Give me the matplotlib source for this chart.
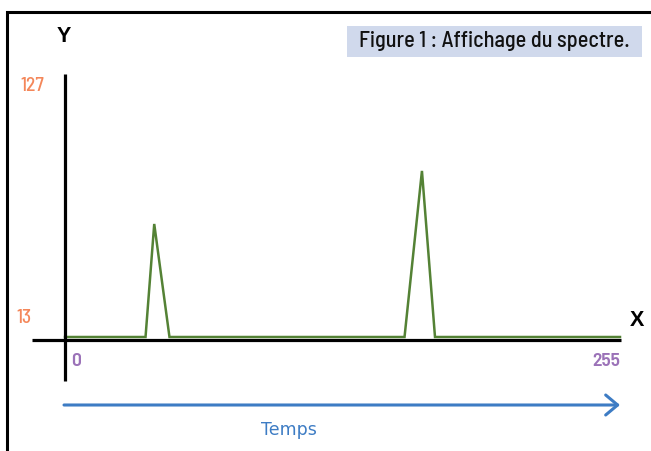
import matplotlib
matplotlib.use("Agg")
import matplotlib.pyplot as plt
from matplotlib.patches import Rectangle, FancyArrowPatch
from matplotlib.lines import Line2D

# ---- data ----
time_samples = [0, 37, 41, 48, 156, 164, 170, 255]
amplitudes = [13, 13, 62, 13, 13, 85, 13, 13]
y_ticks = [13, 127]
x_ticks = [0, 255]
title_text = "Figure 1 : Affichage du spectre."
x_label = "Temps"

W, H = 651, 451
fig = plt.figure(figsize=(W / 100, H / 100), dpi=100)
fig.patch.set_facecolor("white")

def P(x, y):
    return (x / W, 1 - y / H)

T = fig.transFigure
COND = ["Barlow Semi Condensed", "Barlow Condensed", "DejaVu Sans"]
NUM = ["Barlow Semi Condensed", "DejaVu Sans"]
SANS = ["Liberation Sans", "Arimo", "DejaVu Sans"]

# outer frame (cropped rectangle)
fig.add_artist(Line2D([7 / W, 7 / W, 1.02], [-0.02, 1 - 12 / H, 1 - 12 / H],
                      transform=T, color="black", lw=2.2, solid_joinstyle="miter"))

# data axes: x 0..255 -> px 65..620 ; y 13..127 -> px 337..74
ax = fig.add_axes([65 / W, (H - 337) / H, (620 - 65) / W, (337 - 74) / H])
ax.set_xlim(x_ticks[0], x_ticks[1])
ax.set_ylim(y_ticks[0], y_ticks[1])
ax.axis("off")

# axis lines
fig.add_artist(Line2D([65 / W, 65 / W], [1 - 74 / H, 1 - 381 / H], transform=T,
                      color="black", lw=2.3, solid_capstyle="butt"))
fig.add_artist(Line2D([32 / W, 621 / W], [1 - 340 / H, 1 - 340 / H], transform=T,
                      color="black", lw=2.3, solid_capstyle="butt"))

ax.plot(time_samples, amplitudes, color="#548235", lw=1.8, clip_on=False,
        solid_joinstyle="miter", zorder=5)

# title box
fig.add_artist(Rectangle(P(347, 57), (642 - 347) / W, (57 - 26) / H, transform=T,
                         facecolor="#d0d9ec", edgecolor="none"))
fig.text(*P(494, 41), title_text, transform=T, ha="center", va="center",
         fontsize=16, family=COND, fontweight=500, color="#111111")

# axis names
fig.text(*P(64, 37), "Y", ha="center", va="center", fontsize=15.5, fontweight="bold",
         family=SANS, color="black")
fig.text(*P(637, 321), "X", ha="center", va="center", fontsize=15.5, fontweight="bold",
         family=SANS, color="black")

# tick labels
orange = "#f4875a"
purple = "#9b72b8"
fig.text(*P(32, 86), str(y_ticks[1]), ha="center", va="center", fontsize=14,
         family=NUM, color=orange, fontweight=500)
fig.text(*P(24, 318), str(y_ticks[0]), ha="center", va="center", fontsize=14,
         family=NUM, color=orange, fontweight=500)
fig.text(*P(76, 361), str(x_ticks[0]), ha="center", va="center", fontsize=14,
         family=NUM, color=purple, fontweight=600)
fig.text(*P(606, 362), str(x_ticks[1]), ha="center", va="center", fontsize=14,
         family=NUM, color=purple, fontweight=600)

# time arrow
arr = FancyArrowPatch(P(64, 405), P(620, 405), transform=T,
                      arrowstyle="->,head_length=0.86,head_width=0.72",
                      mutation_scale=10, color="#3d7cc4", lw=2.2,
                      shrinkA=0, shrinkB=0)
fig.add_artist(arr)
fig.text(*P(289, 430), x_label, ha="center", va="center", fontsize=12.5,
         family="DejaVu Sans", color="#3d7cc4")

fig.savefig("out.png", dpi=100)
